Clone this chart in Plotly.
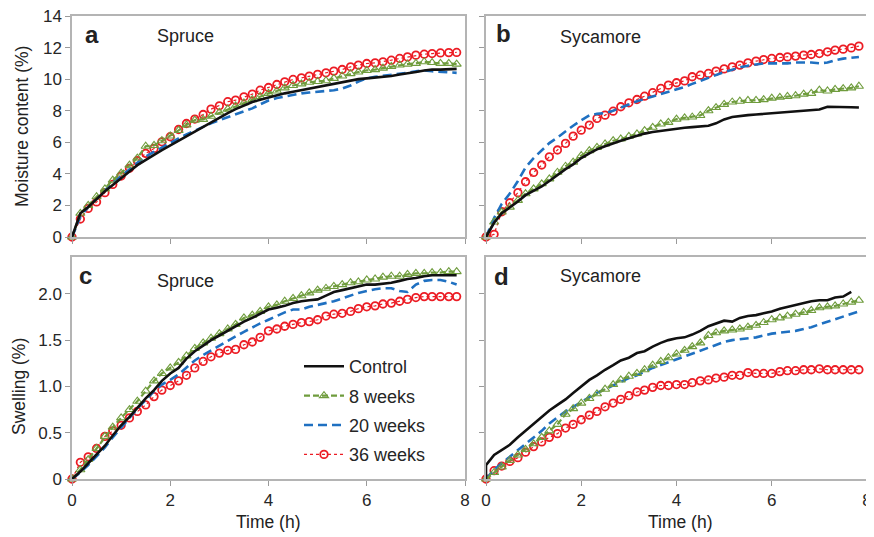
import plotly.graph_objects as go

# ---------------- data ----------------
time_h = [0.00, 0.17, 0.33, 0.50, 0.67, 0.83, 1.00, 1.17, 1.33, 1.50, 1.67, 1.83,
          2.00, 2.17, 2.33, 2.50, 2.67, 2.83, 3.00, 3.17, 3.33, 3.50, 3.67, 3.83,
          4.00, 4.17, 4.33, 4.50, 4.67, 4.83, 5.00, 5.17, 5.33, 5.50, 5.67, 5.83,
          6.00, 6.17, 6.33, 6.50, 6.67, 6.83, 7.00, 7.17, 7.33, 7.50, 7.67, 7.83]

# Panel a: Spruce, moisture content (%)
spruce_mc_control = [0, 1.5, 1.9, 2.4, 2.9, 3.3, 3.75, 4.15, 4.55, 4.9, 5.2, 5.5, 5.8, 6.1, 6.4, 6.7,
                     7.0, 7.3, 7.6, 7.85, 8.1, 8.35, 8.55, 8.7, 8.85, 9.0, 9.1, 9.2, 9.3, 9.4, 9.5, 9.6,
                     9.7, 9.8, 9.9, 10.0, 10.05, 10.1, 10.15, 10.2, 10.3, 10.35, 10.45, 10.55, 10.6,
                     10.6, 10.62, 10.65]
spruce_mc_8w = [0, 1.5, 2.0, 2.55, 3.05, 3.6, 4.05, 4.55, 5.0, 5.75, 5.8, 6.1, 6.4, 6.75, 7.1, 7.4,
                7.45, 7.65, 7.9, 8.1, 8.3, 8.5, 8.7, 8.9, 9.1, 9.25, 9.45, 9.6, 9.7, 9.8, 9.85, 9.9,
                10.05, 10.2, 10.35, 10.45, 10.55, 10.6, 10.7, 10.8, 10.9, 10.95, 11.0, 11.1, 11.05,
                11.0, 11.0, 10.95]
spruce_mc_20w = [0, 1.3, 1.9, 2.45, 3.0, 3.45, 3.85, 4.3, 4.7, 5.1, 5.4, 5.7, 6.0, 6.25, 6.5, 6.75,
                 7.0, 7.2, 7.4, 7.6, 7.75, 7.95, 8.15, 8.4, 8.65, 8.8, 8.9, 9.0, 9.1, 9.15, 9.2, 9.25,
                 9.3, 9.4, 9.6, 9.85, 10.05, 10.15, 10.2, 10.3, 10.35, 10.4, 10.5, 10.55, 10.5,
                 10.45, 10.4, 10.4]
spruce_mc_36w = [0, 1.14, 1.81, 2.22, 2.81, 3.33, 3.86, 4.35, 4.83, 5.30, 5.61, 6.03, 6.35, 6.81,
                 7.19, 7.47, 7.76, 8.10, 8.31, 8.57, 8.67, 8.88, 9.05, 9.30, 9.47, 9.66, 9.83, 9.98,
                 10.08, 10.19, 10.30, 10.40, 10.51, 10.61, 10.78, 10.89, 10.99, 11.03, 11.10, 11.20,
                 11.31, 11.41, 11.52, 11.58, 11.62, 11.66, 11.68, 11.69]

# Panel b: Sycamore, moisture content (%)
sycamore_mc_control = [0, 0.9, 1.5, 1.85, 2.25, 2.65, 2.95, 3.2, 3.55, 3.95, 4.3, 4.6, 5.0, 5.3, 5.55,
                       5.75, 5.95, 6.1, 6.25, 6.4, 6.55, 6.65, 6.72, 6.8, 6.88, 6.92, 6.96, 7.0, 7.05,
                       7.2, 7.45, 7.6, 7.68, 7.72, 7.76, 7.8, 7.85, 7.88, 7.92, 7.95, 7.98, 8.02, 8.08,
                       8.25, 8.25, 8.24, 8.22, 8.2]
sycamore_mc_8w = [0, 0.95, 1.58, 1.89, 2.32, 2.74, 3.05, 3.37, 3.68, 4.1, 4.48, 4.74, 5.16, 5.47, 5.68,
                  5.89, 6.1, 6.21, 6.38, 6.53, 6.74, 6.95, 7.16, 7.26, 7.47, 7.55, 7.6, 7.7, 8.0, 8.2,
                  8.4, 8.55, 8.6, 8.65, 8.65, 8.7, 8.8, 8.85, 8.9, 8.95, 9.05, 9.1, 9.3, 9.25, 9.35,
                  9.4, 9.45, 9.55]
sycamore_mc_20w = [0, 1.2, 2.1, 2.75, 3.55, 4.4, 5.0, 5.5, 5.95, 6.3, 6.7, 7.05, 7.4, 7.7, 7.8, 7.85,
                   8.0, 8.2, 8.4, 8.6, 8.75, 8.9, 9.05, 9.2, 9.35, 9.5, 9.7, 9.9, 10.1, 10.3, 10.45,
                   10.6, 10.75, 10.85, 10.95, 11.0, 11.0, 11.0, 11.0, 11.05, 11.05, 11.05, 11.0, 11.05,
                   11.2, 11.3, 11.35, 11.4]
sycamore_mc_36w = [0, 0.17, 1.60, 2.17, 2.81, 3.50, 4.09, 4.56, 5.08, 5.51, 5.93, 6.39, 6.77, 7.09,
                   7.51, 7.72, 7.97, 8.25, 8.50, 8.71, 8.92, 9.14, 9.41, 9.62, 9.77, 9.89, 10.15,
                   10.25, 10.36, 10.51, 10.65, 10.78, 10.89, 11.03, 11.14, 11.24, 11.31, 11.37, 11.41,
                   11.46, 11.52, 11.56, 11.62, 11.73, 11.84, 11.90, 11.98, 12.09]

# Panel c: Spruce, swelling (%)
spruce_sw_control = [0, 0.08, 0.17, 0.26, 0.36, 0.47, 0.58, 0.67, 0.77, 0.87, 0.96, 1.06, 1.14, 1.20,
                     1.30, 1.38, 1.44, 1.50, 1.55, 1.60, 1.65, 1.70, 1.74, 1.78, 1.83, 1.85, 1.87,
                     1.90, 1.92, 1.93, 1.94, 1.98, 2.02, 2.04, 2.06, 2.08, 2.10, 2.10, 2.11, 2.12,
                     2.14, 2.16, 2.17, 2.19, 2.20, 2.20, 2.20, 2.20]
spruce_sw_8w = [0, 0.10, 0.21, 0.33, 0.46, 0.56, 0.66, 0.75, 0.84, 0.95, 1.06, 1.14, 1.20, 1.26, 1.33,
                1.41, 1.47, 1.52, 1.57, 1.62, 1.67, 1.74, 1.77, 1.81, 1.86, 1.88, 1.92, 1.95, 1.98,
                2.01, 2.04, 2.06, 2.08, 2.10, 2.12, 2.13, 2.15, 2.16, 2.18, 2.19, 2.19, 2.21, 2.22,
                2.22, 2.23, 2.23, 2.24, 2.24]
spruce_sw_20w = [0, 0.07, 0.15, 0.24, 0.34, 0.45, 0.56, 0.66, 0.76, 0.86, 0.95, 1.02, 1.07, 1.13,
                 1.20, 1.28, 1.34, 1.39, 1.44, 1.49, 1.54, 1.59, 1.64, 1.68, 1.72, 1.76, 1.80, 1.83,
                 1.83, 1.86, 1.88, 1.90, 1.92, 1.95, 1.98, 2.01, 2.03, 2.05, 2.06, 2.06, 2.03, 2.02,
                 2.10, 2.14, 2.15, 2.15, 2.13, 2.10]
spruce_sw_36w = [0, 0.18, 0.24, 0.33, 0.46, 0.52, 0.58, 0.66, 0.73, 0.80, 0.89, 0.96, 1.01, 1.06,
                 1.12, 1.20, 1.27, 1.32, 1.36, 1.39, 1.40, 1.45, 1.48, 1.53, 1.60, 1.62, 1.65, 1.67,
                 1.69, 1.70, 1.72, 1.76, 1.78, 1.79, 1.81, 1.84, 1.86, 1.87, 1.89, 1.90, 1.92, 1.94,
                 1.96, 1.97, 1.97, 1.97, 1.97, 1.97]

# Panel d: Sycamore, swelling (%)
sycamore_sw_control_time = [0.00, 0.00, 0.17, 0.33, 0.50, 0.67, 0.83, 1.00, 1.17, 1.33, 1.50, 1.67,
                            1.83, 2.00, 2.17, 2.33, 2.50, 2.67, 2.83, 3.00, 3.17, 3.33, 3.50, 3.67,
                            3.83, 4.00, 4.17, 4.33, 4.50, 4.67, 4.83, 5.00, 5.17, 5.33, 5.50, 5.67,
                            5.83, 6.00, 6.17, 6.33, 6.50, 6.67, 6.83, 7.00, 7.17, 7.33, 7.50, 7.67]
sycamore_sw_control = [0, 0.15, 0.26, 0.31, 0.37, 0.45, 0.52, 0.59, 0.66, 0.74, 0.80, 0.86, 0.93,
                       1.00, 1.07, 1.12, 1.18, 1.23, 1.28, 1.31, 1.36, 1.38, 1.43, 1.47, 1.50, 1.52,
                       1.53, 1.56, 1.60, 1.65, 1.68, 1.71, 1.70, 1.74, 1.76, 1.77, 1.79, 1.81, 1.84,
                       1.86, 1.88, 1.90, 1.92, 1.93, 1.93, 1.96, 1.97, 2.02]
sycamore_sw_8w = [0, 0.07, 0.13, 0.20, 0.26, 0.32, 0.38, 0.45, 0.52, 0.59, 0.70, 0.76, 0.82, 0.87,
                  0.92, 0.97, 1.02, 1.07, 1.11, 1.14, 1.18, 1.23, 1.27, 1.31, 1.35, 1.39, 1.43, 1.47,
                  1.55, 1.58, 1.60, 1.61, 1.62, 1.64, 1.66, 1.69, 1.72, 1.74, 1.76, 1.78, 1.80, 1.82,
                  1.85, 1.86, 1.87, 1.89, 1.91, 1.93]
sycamore_sw_20w = [0, 0.10, 0.17, 0.24, 0.31, 0.38, 0.45, 0.52, 0.60, 0.67, 0.73, 0.78, 0.83, 0.88,
                   0.93, 0.97, 1.01, 1.05, 1.09, 1.12, 1.16, 1.20, 1.23, 1.26, 1.29, 1.32, 1.35, 1.38,
                   1.42, 1.45, 1.48, 1.50, 1.51, 1.52, 1.53, 1.55, 1.57, 1.58, 1.59, 1.60, 1.62, 1.64,
                   1.67, 1.70, 1.73, 1.76, 1.79, 1.81]
sycamore_sw_36w = [0, 0.09, 0.14, 0.19, 0.23, 0.29, 0.35, 0.40, 0.45, 0.49, 0.55, 0.59, 0.64, 0.69,
                   0.73, 0.78, 0.82, 0.86, 0.90, 0.94, 0.96, 0.99, 1.01, 1.01, 1.02, 1.02, 1.04, 1.06,
                   1.07, 1.09, 1.10, 1.12, 1.12, 1.15, 1.14, 1.14, 1.14, 1.16, 1.17, 1.17, 1.18, 1.18,
                   1.19, 1.18, 1.18, 1.18, 1.18, 1.18]

series_names = ["Control", "8 weeks", "20 weeks", "36 weeks"]
x_ticks = [0, 2, 4, 6, 8]
mc_ticks = [0, 2, 4, 6, 8, 10, 12, 14]
sw_ticks = [0, 0.5, 1.0, 1.5, 2.0]
sw_tick_text = ["0", "0.5", "1.0", "1.5", "2.0"]

# ---------------- styling ----------------
FONT = "Liberation Sans, Arial, Helvetica, sans-serif"
C_BLACK = "#111111"
C_GREEN = "#6f9c3d"
C_BLUE = "#1f70c1"
C_RED = "#ec1c24"
PAGE_W, PAGE_H = 874, 537
OFF = 8                      # default page body margin
W, H = PAGE_W - OFF, PAGE_H - OFF


def px_x(p):
    return (p - OFF) / W


def px_y(p):
    return 1 - (p - OFF) / H


def style_for(k):
    if k == 0:
        return dict(mode="lines", line=dict(color=C_BLACK, width=2.6))
    if k == 1:
        return dict(mode="lines+markers", line=dict(color=C_GREEN, width=2.2, dash="6px,3px"),
                    marker=dict(symbol="triangle-up-open", size=8, color=C_GREEN,
                                line=dict(width=1.1, color=C_GREEN)))
    if k == 2:
        return dict(mode="lines", line=dict(color=C_BLUE, width=2.6, dash="9px,5px"))
    return dict(mode="lines+markers", line=dict(color=C_RED, width=1.2, dash="dot"),
                marker=dict(symbol="circle-open", size=7.5, color=C_RED,
                            line=dict(width=1.8, color=C_RED)))


fig = go.Figure()

panels = [
    ("x", "y", [(time_h, spruce_mc_control), (time_h, spruce_mc_8w),
                (time_h, spruce_mc_20w), (time_h, spruce_mc_36w)], False),
    ("x2", "y2", [(time_h, sycamore_mc_control), (time_h, sycamore_mc_8w),
                  (time_h, sycamore_mc_20w), (time_h, sycamore_mc_36w)], False),
    ("x3", "y3", [(time_h, spruce_sw_control), (time_h, spruce_sw_8w),
                  (time_h, spruce_sw_20w), (time_h, spruce_sw_36w)], True),
    ("x4", "y4", [(sycamore_sw_control_time, sycamore_sw_control), (time_h, sycamore_sw_8w),
                  (time_h, sycamore_sw_20w), (time_h, sycamore_sw_36w)], False),
]

for xa, ya, series, legend in panels:
    for k in [3, 2, 1, 0]:
        xs, ys = series[k]
        fig.add_trace(go.Scatter(x=xs, y=ys, xaxis=xa, yaxis=ya, name=series_names[k],
                                 showlegend=legend, legendrank=k + 1, legendgroup=series_names[k],
                                 cliponaxis=False, hoverinfo="skip", **style_for(k)))

axis_common = dict(showgrid=False, zeroline=False, showline=True, mirror=True, automargin=False,
                   linecolor="#b4b4b4", linewidth=1.5, ticks="outside", ticklen=5,
                   tickwidth=1.2, tickcolor="#9a9a9a", ticklabeloverflow="allow",
                   tickfont=dict(family=FONT, size=17, color="#262626"))

xa_dom = [px_x(72), px_x(465)]
xb_dom = [px_x(486), px_x(867)]
ytop_dom = [px_y(237), px_y(16)]
ybot_dom = [px_y(479), px_y(256.8)]

fig.update_layout(
    width=W, height=H,
    margin=dict(l=0, r=0, t=0, b=0, autoexpand=False),
    paper_bgcolor="white", plot_bgcolor="white",
    font=dict(family=FONT, color="#262626"),
    showlegend=True,
    legend=dict(x=px_x(299), y=px_y(348), xanchor="left", yanchor="top",
                bgcolor="rgba(0,0,0,0)", borderwidth=0,
                font=dict(family=FONT, size=18, color="#262626"),
                itemwidth=40, tracegroupgap=3, traceorder="grouped"),
    xaxis=dict(domain=xa_dom, anchor="y", range=[0, 8], tickvals=x_ticks,
               showticklabels=False, **axis_common),
    yaxis=dict(domain=ytop_dom, anchor="x", range=[0, 14], tickvals=mc_ticks, **axis_common),
    xaxis2=dict(domain=xb_dom, anchor="y2", range=[0, 8], tickvals=x_ticks,
                showticklabels=False, **axis_common),
    yaxis2=dict(domain=ytop_dom, anchor="x2", range=[0, 14], tickvals=mc_ticks,
                showticklabels=False, **axis_common),
    xaxis3=dict(domain=xa_dom, anchor="y3", range=[0, 8], tickvals=x_ticks, **axis_common),
    yaxis3=dict(domain=ybot_dom, anchor="x3", range=[0, 2.4], tickvals=sw_ticks,
                ticktext=sw_tick_text, **axis_common),
    xaxis4=dict(domain=xb_dom, anchor="y4", range=[0, 8], tickvals=x_ticks, **axis_common),
    yaxis4=dict(domain=ybot_dom, anchor="x4", range=[0, 2.4], tickvals=sw_ticks,
                showticklabels=False, **axis_common),
)


def ann(text, x, y, size, bold=False, angle=0):
    fig.add_annotation(text=("<b>%s</b>" % text) if bold else text,
                       x=px_x(x), y=px_y(y), xref="paper", yref="paper",
                       xanchor="center", yanchor="middle", showarrow=False,
                       textangle=angle, font=dict(family=FONT, size=size, color="#222222"))


ann("a", 92, 34, 24, bold=True)
ann("Spruce", 185, 36, 18)
ann("b", 503, 33, 24, bold=True)
ann("Sycamore", 600, 37, 18)
ann("c", 85, 275, 24, bold=True)
ann("Spruce", 185, 281, 18)
ann("d", 502, 276, 24, bold=True)
ann("Sycamore", 600, 276, 18)
ann("Moisture content (%)", 22, 127, 17.5, angle=-90)
ann("Swelling (%)", 19, 387, 17.5, angle=-90)
ann("Time (h)", 268, 522, 17.5)
ann("Time (h)", 680, 522, 17.5)

fig.write_html("out.html")
